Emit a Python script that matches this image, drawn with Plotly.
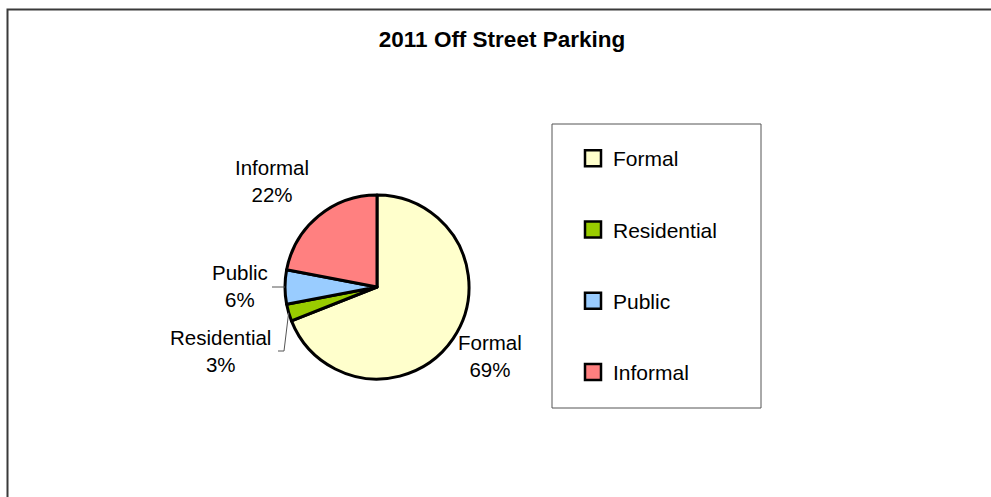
import math
import plotly.graph_objects as go

W, H = 991, 497

# ---- data ----
categories = ["Formal", "Residential", "Public", "Informal"]
values = [69, 3, 6, 22]
colors = ["#FFFFCC", "#99CC00", "#99CCFF", "#FF8080"]
title_text = "2011 Off Street Parking"

FONT = "Liberation Sans, Arial, sans-serif"


def px(x):
    return x / W


def py(y):
    return 1 - y / H


# pie geometry (pixels)
cx, cy, r = 377, 287, 92

fig = go.Figure()
fig.add_trace(go.Pie(
    labels=categories,
    values=values,
    sort=False,
    direction="clockwise",
    rotation=0,
    marker=dict(colors=colors, line=dict(color="black", width=3)),
    textinfo="none",
    hoverinfo="label+percent",
    showlegend=False,
    domain=dict(x=[px(cx - r), px(cx + r)], y=[py(cy + r), py(cy - r)]),
))

# legend entries (one group per category, so the gap between them can be set)
for lab, col in zip(categories, colors):
    fig.add_trace(go.Scatter(
        x=[None], y=[None], mode="markers", name=lab, legendgroup=lab,
        marker=dict(symbol="square", size=16, color=col,
                    line=dict(color="black", width=2.5)),
        hoverinfo="skip",
    ))

# slice mid angles (degrees clockwise from 12 o'clock)
total = sum(values)
mids = []
acc = 0
for v in values:
    mids.append((acc + v / 2) / total * 360)
    acc += v


def edge(i, rr=r):
    a = math.radians(mids[i])
    return cx + rr * math.sin(a), cy - rr * math.cos(a)


pct = [f"{round(v / total * 100)}%" for v in values]

# label positions (pixel centres of the two-line labels)
label_pos = {
    "Formal": (490, 356),
    "Residential": (220, 351),
    "Public": (240, 286),
    "Informal": (272, 181),
}

annotations = []
for i, lab in enumerate(categories):
    lx, ly = label_pos[lab]
    annotations.append(dict(
        x=px(lx), y=py(ly), xref="paper", yref="paper",
        text=f"{lab}<br>{pct[i]}", showarrow=False,
        font=dict(family=FONT, size=20.5, color="black"),
        align="center", xanchor="center", yanchor="middle",
    ))

shapes = []
# outer chart frame (left and top edges visible)
shapes.append(dict(type="rect", xref="paper", yref="paper",
                   x0=px(7.5), x1=1.05, y0=-0.05, y1=py(9.5),
                   line=dict(color="#3a3a3a", width=2)))
# legend box
shapes.append(dict(type="rect", xref="paper", yref="paper",
                   x0=px(552), x1=px(761), y0=py(408), y1=py(124),
                   line=dict(color="#555555", width=1)))

# leader lines
ex, ey = edge(2)
shapes.append(dict(type="line", xref="paper", yref="paper",
                   x0=px(272), y0=py(ey), x1=px(ex), y1=py(ey),
                   line=dict(color="#555555", width=1)))
ex, ey = edge(1)
path = (f"M {px(278)} {py(351)} L {px(284)} {py(351)} "
        f"L {px(ex)} {py(ey)}")
shapes.append(dict(type="path", xref="paper", yref="paper", path=path,
                   line=dict(color="#555555", width=1)))

fig.update_layout(
    width=W, height=H,
    margin=dict(l=0, r=0, t=0, b=0),
    paper_bgcolor="white", plot_bgcolor="white",
    title=dict(text=f"<b>{title_text}</b>", x=px(502), xanchor="center",
               y=py(39), yanchor="middle", yref="paper",
               font=dict(family=FONT, size=22.5, color="black")),
    xaxis=dict(visible=False), yaxis=dict(visible=False),
    legend=dict(x=px(573), xanchor="left", y=py(138), yanchor="top",
                font=dict(family=FONT, size=21, color="black"),
                tracegroupgap=41, bgcolor="rgba(0,0,0,0)", borderwidth=0,
                itemwidth=30,
                itemclick=False, itemdoubleclick=False),
    annotations=annotations,
    shapes=shapes,
)

fig.write_html("out.html")
